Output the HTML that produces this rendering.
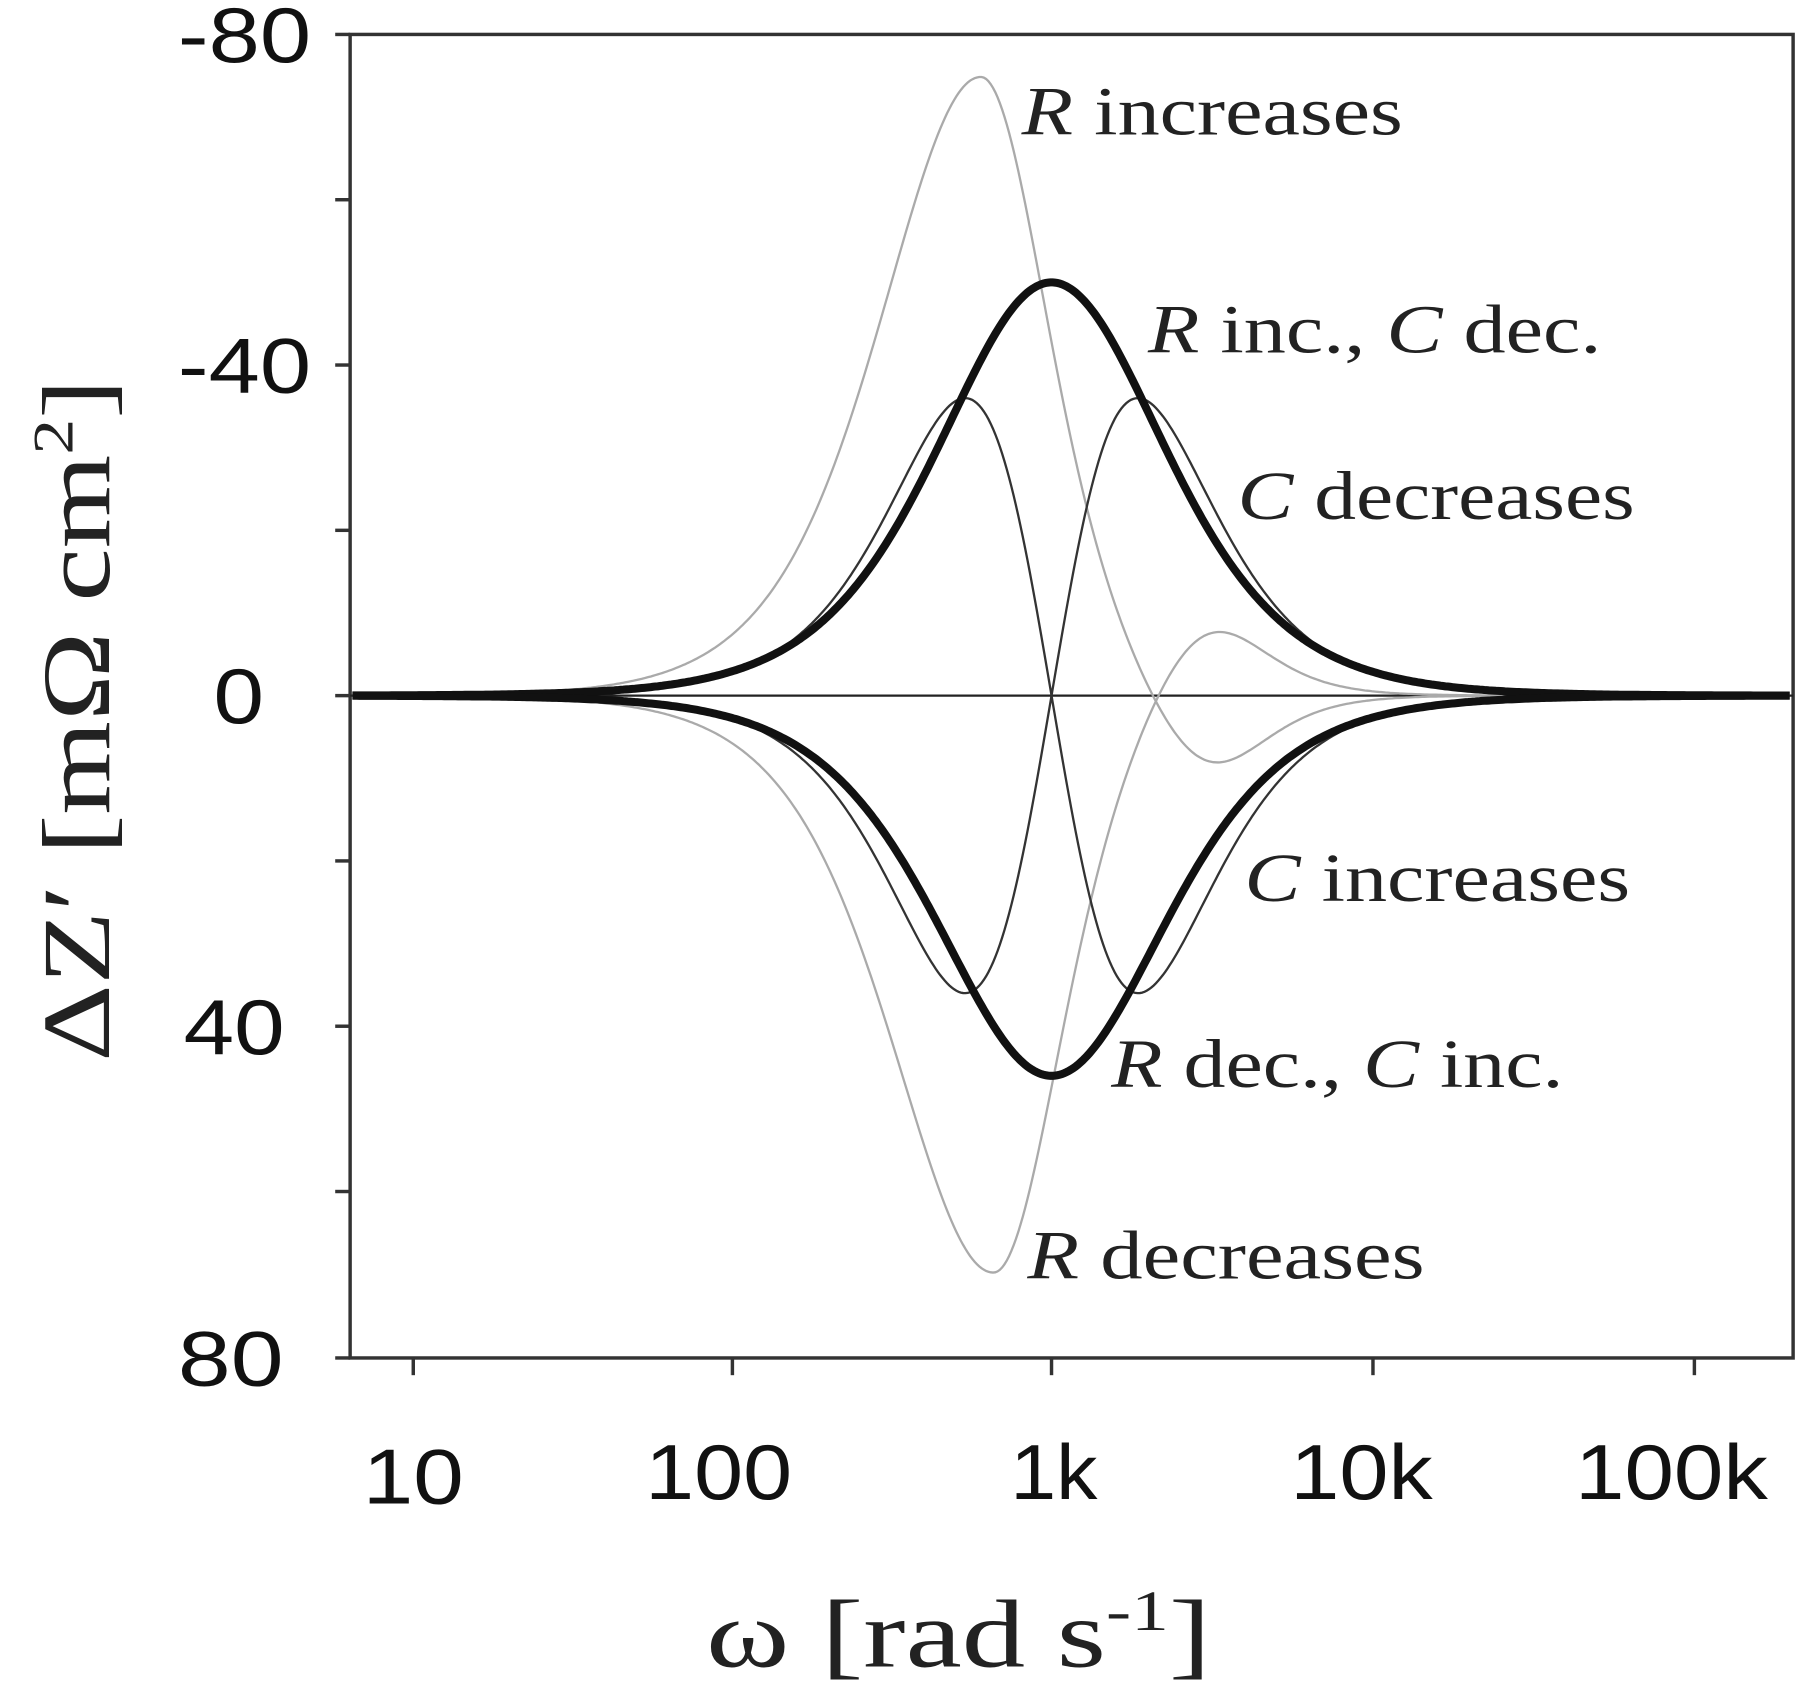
<!DOCTYPE html>
<html><head><meta charset="utf-8"><style>
html,body{margin:0;padding:0;background:#fff;}
svg{display:block;}
.t{font-family:"Liberation Sans",Arial,sans-serif;font-size:68px;fill:#111;}
.s{font-family:"Liberation Serif","Times New Roman",serif;fill:#222;}
</style></head><body>
<svg id="c" width="1800" height="1692" viewBox="0 0 1568 1474" preserveAspectRatio="none" xmlns="http://www.w3.org/2000/svg">
<rect x="0" y="0" width="1568" height="1474" fill="#fff"/>
<rect x="305" y="30" width="1257" height="1153" fill="none" stroke="#333" stroke-width="3"/>
<g stroke="#333" stroke-width="3">
<line x1="292" y1="30" x2="305" y2="30"/><line x1="292" y1="174" x2="305" y2="174"/>
<line x1="292" y1="318" x2="305" y2="318"/><line x1="292" y1="462" x2="305" y2="462"/>
<line x1="292" y1="606" x2="305" y2="606"/><line x1="292" y1="750" x2="305" y2="750"/>
<line x1="292" y1="894" x2="305" y2="894"/><line x1="292" y1="1038" x2="305" y2="1038"/>
<line x1="292" y1="1183" x2="305" y2="1183"/>
<line x1="360" y1="1183" x2="360" y2="1198"/><line x1="638" y1="1183" x2="638" y2="1198"/>
<line x1="916" y1="1183" x2="916" y2="1198"/><line x1="1196" y1="1183" x2="1196" y2="1198"/>
<line x1="1476" y1="1183" x2="1476" y2="1198"/>
</g>
<line x1="305" y1="606" x2="1562" y2="606" stroke="#222" stroke-width="2"/>
<g id="curves" fill="none"></g>
<g class="t">
<text x="155" y="54" textLength="116" lengthAdjust="spacingAndGlyphs">-80</text>
<text x="155" y="342" textLength="116" lengthAdjust="spacingAndGlyphs">-40</text>
<text x="186" y="630" textLength="44" lengthAdjust="spacingAndGlyphs">0</text>
<text x="160" y="918" textLength="88" lengthAdjust="spacingAndGlyphs">40</text>
<text x="155" y="1207" textLength="92" lengthAdjust="spacingAndGlyphs">80</text>
<text x="316" y="1310" textLength="88" lengthAdjust="spacingAndGlyphs">10</text>
<text x="562" y="1306" textLength="128" lengthAdjust="spacingAndGlyphs">100</text>
<text x="880" y="1306" textLength="76" lengthAdjust="spacingAndGlyphs">1k</text>
<text x="1124" y="1306" textLength="124" lengthAdjust="spacingAndGlyphs">10k</text>
<text x="1372" y="1306" textLength="168" lengthAdjust="spacingAndGlyphs">100k</text>
</g>
<g class="s" font-size="60">
<text x="890" y="117" textLength="332" lengthAdjust="spacingAndGlyphs"><tspan font-style="italic">R</tspan> increases</text>
<text x="1000" y="307" textLength="395" lengthAdjust="spacingAndGlyphs"><tspan font-style="italic">R</tspan> inc., <tspan font-style="italic">C</tspan> dec.</text>
<text x="1078" y="452" textLength="346" lengthAdjust="spacingAndGlyphs"><tspan font-style="italic">C</tspan> decreases</text>
<text x="1084" y="785" textLength="336" lengthAdjust="spacingAndGlyphs"><tspan font-style="italic">C</tspan> increases</text>
<text x="968" y="947" textLength="394" lengthAdjust="spacingAndGlyphs"><tspan font-style="italic">R</tspan> dec., <tspan font-style="italic">C</tspan> inc.</text>
<text x="895" y="1114" textLength="346" lengthAdjust="spacingAndGlyphs"><tspan font-style="italic">R</tspan> decreases</text>
</g>
<text class="s" font-size="84" transform="translate(95,925) rotate(-90)" textLength="595" lengthAdjust="spacingAndGlyphs">ΔZ′ [mΩ cm<tspan font-size="50" dy="-32">2</tspan><tspan dy="32">]</tspan></text>
<text class="s" font-size="84" x="615" y="1452" textLength="440" lengthAdjust="spacingAndGlyphs">ω  [rad s<tspan font-size="50" dy="-32">-1</tspan><tspan dy="32">]</tspan></text>
</svg>
<script>
function sech2(z){var c=Math.cosh(z);return 1/(c*c);}
function Y(v){return 606+7.2*v;}
function path(f){var d="";for(var x=307;x<=1560;x+=2){var u=3+(x-916)/279;var v=f(u);d+=(d?"L":"M")+x+","+Y(v).toFixed(1);}return d;}
function asym(u){var z=2.44*(u-3);return 2*sech2(z)*Math.tanh(z)/0.7698;}
function gray(A,c,B,c2,u){var k=u<c?2.35:3.5;return A*sech2(k*(u-c))+B*sech2(4*(u-c2));}
var cs=[
 [function(u){return gray(-75,2.78,10,3.48,u);},"#aaa",2],
 [function(u){return gray(70,2.82,-10,3.48,u);},"#aaa",2],
 [function(u){return 36*asym(u);},"#333",2],
 [function(u){return -36*asym(u);},"#333",2],
 [function(u){return -50*sech2(2.1*(u-3));},"#111",7],
 [function(u){return 46*sech2(2.1*(u-3));},"#111",7]
];
var g=document.getElementById("curves");
cs.forEach(function(c){var p=document.createElementNS("http://www.w3.org/2000/svg","path");p.setAttribute("d",path(c[0]));p.setAttribute("stroke",c[1]);p.setAttribute("stroke-width",c[2]);g.appendChild(p);});
</script>
</body></html>
